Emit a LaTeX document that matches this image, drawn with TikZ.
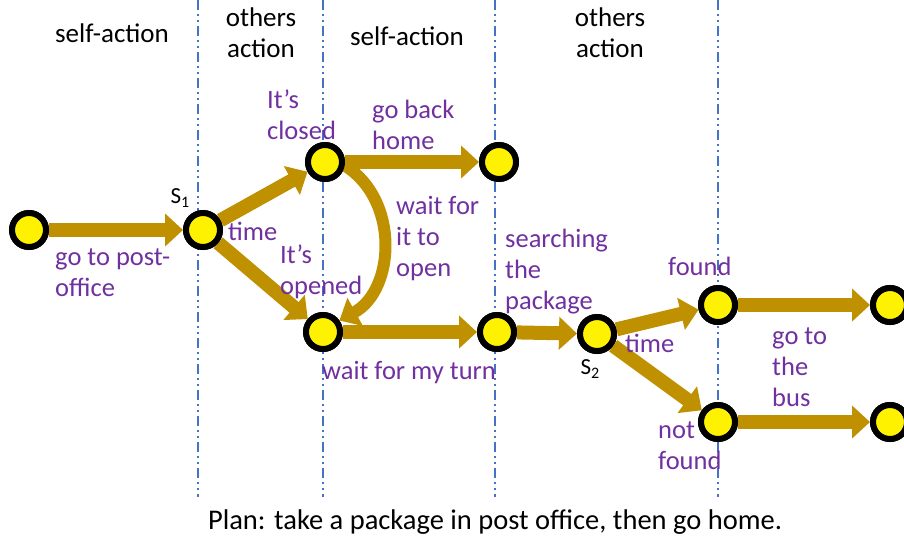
\documentclass[tikz,border=0pt]{standalone}
\usepackage{fontspec}
\setmainfont{Carlito}
\usetikzlibrary{arrows.meta}
\definecolor{gold}{RGB}{191,144,0}
\definecolor{lblpurple}{RGB}{112,48,160}
\definecolor{sepblue}{RGB}{68,114,196}
\begin{document}
\begin{tikzpicture}[x=1pt,y=-1pt,
  state/.style={circle,fill=yellow,draw=black,line width=6pt,minimum size=34pt,inner sep=0pt},
  flow/.style={draw=gold,line width=14pt,-{Triangle[length=18pt,width=32pt]}},
  lbl/.style={text=lblpurple,font=\fontsize{26.5}{31}\selectfont,align=left,anchor=west,inner sep=0pt},
  hdr/.style={text=black,font=\fontsize{27}{31}\selectfont,align=center,inner sep=0pt},
  sep/.style={draw=sepblue,line width=2pt,dash pattern=on 10pt off 4pt on 2pt off 4pt on 2pt off 4pt},
  slbl/.style={text=black,font=\fontsize{23}{24}\selectfont,inner sep=0pt}]
\useasboundingbox (0,0) rectangle (904,539);
% separators
\foreach \x in {198,323,495,718} \draw[sep] (\x,0) -- (\x,497);
% nodes
\node[state] (n0) at (29,230) {};
\node[state] (s1) at (203,230) {};
\node[state] (cl) at (325,162) {};
\node[state] (hm) at (499,162) {};
\node[state] (op) at (323,332) {};
\node[state] (tn) at (497,332) {};
\node[state] (s2) at (597,334) {};
\node[state] (fd) at (718,305) {};
\node[state] (nf) at (718,422) {};
\node[state] (e1) at (890,305) {};
\node[state] (e2) at (890,422) {};
% connectors
\path[flow] (n0) -- (s1);
\path[flow] (s1) -- (cl);
\path[flow] (s1) -- (op);
\path[flow] (cl) -- (hm);
\path[flow] (op) -- (tn);
\path[flow] (tn) -- (s2);
\path[flow] (s2) -- (fd);
\path[flow] (s2) -- (nf);
\path[flow] (fd) -- (e1);
\path[flow] (nf) -- (e2);
\path[flow,line width=12pt,-{Triangle[length=18pt,width=31pt]}] (cl.-10) .. controls (400,200) and (395,290) .. (op.35);
% redraw nodes on top of connectors
\foreach \p in {(29,230),(203,230),(325,162),(499,162),(323,332),(497,332),(597,334),(718,305),(718,422),(890,305),(890,422)}
  \node[state] at \p {};
% labels
\node[lbl] (l1) at (55,273) {go to post-\\office};
\node[lbl] (l2) at (228,231) {time};
\node[lbl] (l3) at (267,115) {It’s\\closed};
\node[lbl] (l4) at (372,125) {go back\\home};
\node[lbl] (l5) at (396,239) {wait for\\it to\\open};
\node[lbl] (l6) at (280,272) {It’s\\opened};
\node[lbl] (l7) at (322,373) {wait for my turn};
\node[lbl] (l8) at (505,272) {searching\\the\\package};
\node[lbl] (l9) at (625,343) {time};
\node[lbl] (l10) at (668,266) {found};
\node[lbl] (l11) at (772,367) {go to\\the\\bus};
\node[lbl] (l12) at (658,446) {not\\found};
\node[slbl] (sl1) at (180,198) {S\raisebox{-0.35ex}{\fontsize{16}{16}\selectfont 1}};
\node[slbl] (sl2) at (590,369) {S\raisebox{-0.35ex}{\fontsize{16}{16}\selectfont 2}};
% headers
\node[hdr] (h1) at (112,33) {self-action};
\node[hdr] (h2) at (261,33) {others\\action};
\node[hdr] (h3) at (407,36) {self-action};
\node[hdr] (h4) at (610,33) {others\\action};
\node[hdr,font=\fontsize{28.5}{31}\selectfont] (cap) at (495,522) {Plan: take a package in post office, then go home.};
\end{tikzpicture}
\end{document}
